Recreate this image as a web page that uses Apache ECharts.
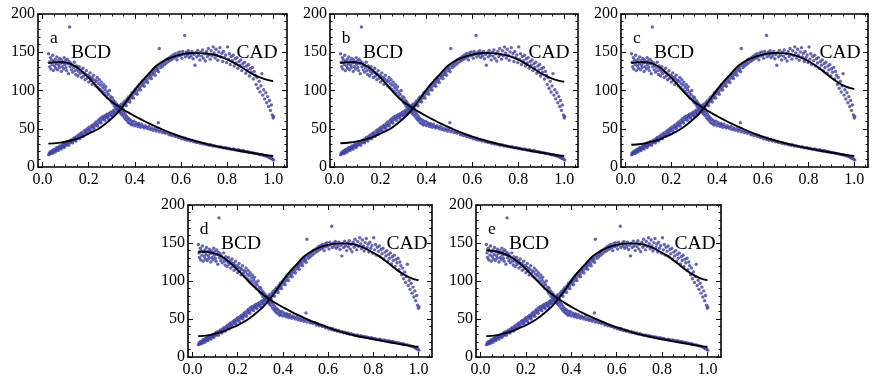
<!DOCTYPE html>
<html><head><meta charset="utf-8">
<script src="https://cdn.jsdelivr.net/npm/echarts@6/dist/echarts.min.js"></script>
<style>html,body{margin:0;padding:0;background:#fff}#c{width:872px;height:383px}</style>
</head><body><div id="c"></div>
<script>
// ---------- data ----------
const panelNames = ['a', 'b', 'c', 'd', 'e'];
const xTickValues = [0, 0.2, 0.4, 0.6, 0.8, 1.0];
const xMinorTickValues = [0.05,0.1,0.15,0.25,0.3,0.35,0.45,0.5,0.55,0.65,0.7,0.75,0.85,0.9,0.95,1.05];

// measured points (same in every panel)
const bcdPoints = [
[0.026,148],[0.029,137],[0.031,131],[0.034,143],[0.036,128],[0.039,140],[0.042,134],[0.044,146],[0.047,126],[0.049,138],
[0.052,132],[0.055,141],[0.057,129],[0.060,135],[0.062,144],[0.065,127],[0.068,139],[0.070,133],[0.073,130],[0.075,142],
[0.078,136],[0.081,125],[0.083,140],[0.086,131],[0.088,137],[0.091,128],[0.094,143],[0.096,134],[0.099,139],[0.101,130],
[0.104,126],[0.107,141],[0.109,135],[0.112,122],[0.114,138],[0.117,183],
[0.119,131],[0.122,136],[0.125,127],[0.128,133],[0.131,124],[0.135,130],[0.138,137],[0.141,126],[0.144,121],[0.147,132],
[0.150,128],[0.153,119],[0.156,125],[0.159,131],[0.162,122],[0.166,127],[0.169,117],[0.172,124],[0.175,129],[0.178,119],
[0.181,123],[0.184,114],[0.187,121],[0.190,126],[0.193,116],[0.197,120],[0.200,111],[0.203,118],[0.206,123],[0.209,113],
[0.212,117],[0.215,108],[0.218,115],[0.221,120],[0.224,110],[0.228,113.5],[0.231,106],[0.234,112],[0.237,117],[0.240,104],
[0.243,109],[0.246,114],[0.249,101.5],[0.252,107],[0.255,111],[0.259,99],[0.262,104],[0.265,108],[0.268,96],[0.271,101],
[0.274,105],[0.277,93],[0.280,98],[0.283,90],[0.286,95],[0.290,100],[0.293,88],[0.296,92],[0.299,85],[0.302,90.5],
[0.305,83],[0.308,87],[0.311,80],[0.314,85],[0.317,78],[0.321,82.5],[0.324,76],[0.327,80],[0.330,73],[0.333,78],
[0.336,71],[0.339,75.5],[0.342,69],[0.345,73],[0.348,67],[0.352,71.5],[0.355,64],[0.358,69],[0.361,62],[0.364,66.5],
[0.367,60],[0.370,64],[0.373,58],[0.376,62.5],[0.379,57],[0.383,61],[0.386,55],[0.389,59],
[0.392,56],[0.396,60],[0.400,54],[0.405,58],[0.409,56],[0.413,53],[0.417,57],[0.421,55],[0.425,52],[0.430,56],
[0.435,53],[0.440,51],[0.445,54],[0.450,52],[0.456,50],[0.461,53],[0.467,49],[0.473,51],[0.479,48],[0.486,50],
[0.492,47],[0.498,49],[0.502,58],[0.506,46],[0.513,48],[0.520,45],[0.527,46],[0.533,44],[0.541,45],[0.548,42],
[0.554,43],[0.561,41],[0.569,42],[0.575,40],[0.582,40.5],[0.589,38.5],[0.596,39],[0.603,37],[0.610,38],[0.616,36],
[0.620,37.5],[0.627,35],[0.634,36],[0.641,34],[0.647,35],[0.655,33],[0.662,33.5],[0.668,32],[0.675,32.5],[0.683,31],
[0.689,31.5],[0.696,30],[0.703,30.5],[0.710,29.5],[0.717,29],[0.724,28.5],[0.730,29],[0.738,27.5],[0.745,28],[0.751,27],
[0.758,27],[0.766,26],[0.772,26.5],[0.779,25.5],[0.786,25],[0.793,25.5],[0.800,24],[0.807,24.5],[0.813,23.5],[0.821,23],
[0.828,23.5],[0.834,22.5],[0.841,22],[0.849,22.5],[0.855,21.5],[0.862,21],[0.869,21.5],[0.876,20.5],[0.883,20],[0.890,20],
[0.896,19],[0.903,19],[0.911,18.5],[0.917,18],[0.924,17.5],[0.932,17.5],[0.938,16.5],[0.945,16],[0.952,16],[0.959,15],
[0.966,14.5],[0.973,14],[0.979,13],[0.984,12.5],[0.990,11],[0.994,12],[0.998,10],[1.002,9]
];
const cadPoints = [
[0.026,16],[0.029,18.5],[0.031,17],[0.034,20],[0.036,17.5],[0.039,19],[0.042,21.5],[0.044,18],[0.047,20.5],[0.049,23],
[0.052,21],[0.055,19.5],[0.057,24],[0.060,22],[0.062,25.5],[0.065,23],[0.068,21.5],[0.070,26],[0.073,24.5],[0.075,27.5],
[0.078,25],[0.081,23.5],[0.083,28],[0.086,26.5],[0.088,29.5],[0.091,27],[0.094,25.5],[0.096,30],[0.099,28],[0.101,31.5],
[0.105,29],[0.108,33],[0.111,30.5],[0.114,28.5],[0.117,34],[0.120,32],[0.124,35.5],[0.127,33],[0.130,31.5],[0.133,37],
[0.136,34.5],[0.139,38.5],[0.142,36],[0.145,34],[0.148,40],[0.152,37.5],[0.155,42],[0.158,39],[0.161,37],[0.164,43.5],
[0.167,41],[0.170,45],[0.173,42.5],[0.176,40],[0.180,47],[0.183,44],[0.186,48.5],[0.189,46],[0.192,43.5],[0.195,50],
[0.198,47.5],[0.201,52],[0.204,49],[0.208,46.5],[0.211,53.5],[0.214,51],[0.217,55],[0.220,52.5],[0.223,50],[0.226,57],
[0.229,54],[0.232,59],[0.236,56],[0.239,53.5],[0.242,61],[0.245,58],[0.248,63],[0.251,60],[0.254,57.5],[0.257,65],
[0.260,62],[0.264,66.5],[0.267,63.5],[0.270,61],[0.273,67.5],[0.276,65],[0.279,69],[0.282,66],[0.285,63.5],[0.288,70],
[0.292,67.5],[0.295,71.5],[0.298,68.5],[0.301,66],[0.304,73],[0.307,70],[0.310,74.5],[0.313,72],[0.316,69.5],[0.320,76],
[0.323,73.5],[0.326,78],[0.329,75],[0.332,72.5],[0.335,80],[0.338,77],[0.341,82],[0.344,79],[0.348,76],[0.351,84],
[0.354,81],[0.357,86.5],[0.360,83],[0.363,80],[0.366,89],[0.369,85.5],[0.372,91.5],[0.376,88],[0.379,85],[0.382,94],
[0.385,90.5],[0.388,97],[0.391,93],[0.394,90],[0.397,99.5],[0.400,96],[0.404,102],[0.407,98.5],[0.410,95],[0.413,105],
[0.416,101],[0.419,107.5],[0.422,104],[0.425,100.5],[0.428,110],[0.432,106.5],[0.435,112.5],[0.438,109],[0.441,105.5],[0.444,115],
[0.447,111.5],[0.450,117.5],[0.453,114],[0.456,110.5],[0.460,120],[0.463,116.5],[0.466,122],[0.469,119],[0.472,115.5],[0.475,124.5],
[0.478,121],[0.481,127],[0.484,123.5],[0.488,120],[0.491,129],[0.494,126],[0.497,131],[0.500,128],[0.503,124.5],[0.506,155],
[0.509,133],[0.513,130],
[0.517,135.5],[0.521,132],[0.525,137.5],[0.529,134],[0.533,140],[0.537,136],[0.542,141.5],[0.546,138],[0.550,143],[0.554,139.5],
[0.558,145],[0.562,141],[0.566,146.5],[0.571,142.5],[0.575,148],[0.579,144],[0.583,140],[0.587,149],[0.591,145],[0.595,150.5],
[0.600,146],[0.604,142],[0.608,151],[0.612,147.5],[0.616,172],
[0.619,144],[0.624,150],[0.628,146],[0.632,152],[0.636,143],[0.640,148.5],[0.644,145],[0.648,151],[0.653,141.5],[0.657,147],
[0.661,133],[0.665,149.5],[0.669,144],[0.673,152.5],[0.677,146],[0.682,140],[0.686,150],[0.690,145],[0.694,153],[0.698,142],
[0.702,148],[0.706,138.5],[0.711,151],[0.715,144.5],[0.719,155],[0.723,147],[0.727,141],[0.731,152],[0.735,145.5],[0.740,157],
[0.744,149],[0.748,142.5],[0.752,154],[0.756,146],[0.760,139.5],[0.764,150.5],[0.769,156],[0.773,144],[0.777,148.5],[0.781,138],
[0.785,151],[0.789,143],[0.794,146.5],[0.798,136.5],[0.802,157],[0.806,141],[0.810,148],[0.814,134],[0.818,144.5],[0.823,139],
[0.827,146],[0.831,132],[0.835,141.5],[0.839,136],[0.843,143],[0.847,129],[0.852,138],[0.856,133],[0.860,140],[0.864,126],
[0.868,135],[0.872,130],[0.876,137],[0.881,122.5],[0.885,132],[0.889,127],[0.893,134],[0.897,119],[0.901,128.5],[0.905,124],
[0.910,130],[0.914,115],[0.918,125],[0.922,120],[0.926,108],[0.930,117],[0.934,103],[0.939,112],[0.943,98],[0.947,106],
[0.951,122],[0.955,94],[0.959,101],[0.963,89],[0.968,97],[0.972,84],[0.976,92],[0.980,79],[0.984,87],[0.988,74],
[0.992,81],[0.996,68],[1.000,64],[1.002,66]
];

// fitted model curves, one pair per panel
const bcdFitA = [[0.025,136],[0.056,137],[0.087,137],[0.118,135],[0.15,130],[0.181,122],[0.212,113],[0.243,102],[0.274,92],[0.305,84],[0.336,78],[0.367,72],[0.409,65],[0.461,57],[0.513,50],[0.564,43.5],[0.616,38],[0.668,33.5],[0.72,29.5],[0.772,26],[0.824,23],[0.876,20],[0.927,17.5],[0.979,15],[1.0,14.5]];
const cadFitA = [[0.025,30.5],[0.067,31.5],[0.098,33],[0.139,36],[0.17,39],[0.201,44],[0.243,50],[0.274,57],[0.316,68],[0.347,79],[0.388,96],[0.419,108],[0.461,122],[0.492,132],[0.533,140],[0.575,145],[0.616,148],[0.658,149],[0.699,148.5],[0.741,147],[0.782,143],[0.824,137],[0.865,130],[0.907,122],[0.948,116.5],[0.979,113.5],[1.0,112.5]];
const bcdFitB = [[0.025,136],[0.056,137],[0.087,137],[0.118,135],[0.15,130],[0.181,122],[0.212,113],[0.243,102],[0.274,92],[0.305,84],[0.336,78],[0.367,72],[0.409,65],[0.461,57],[0.513,50],[0.564,43.5],[0.616,38],[0.668,33.5],[0.72,29.5],[0.772,26],[0.824,23],[0.876,20],[0.927,17.5],[0.979,15],[1.0,14.5]];
const cadFitB = [[0.025,31],[0.067,32],[0.098,33.5],[0.139,36.5],[0.17,39.5],[0.201,44],[0.243,50],[0.274,57],[0.316,68],[0.347,79],[0.388,96],[0.419,108],[0.461,122],[0.492,132],[0.533,140],[0.575,145],[0.616,148],[0.658,149],[0.699,148.5],[0.741,146.5],[0.782,142.5],[0.824,136.5],[0.865,129],[0.907,121],[0.948,115.5],[0.979,112.5],[1.0,111.5]];
const bcdFitC = [[0.025,136],[0.056,137],[0.087,137],[0.118,135],[0.15,130],[0.181,122],[0.212,113],[0.243,102],[0.274,92],[0.305,84],[0.336,78],[0.367,72],[0.409,65],[0.461,57],[0.513,50],[0.564,43.5],[0.616,38],[0.668,33.5],[0.72,29.5],[0.772,26],[0.824,23],[0.876,20],[0.927,17.5],[0.979,15],[1.0,14.5]];
const cadFitC = [[0.025,29],[0.067,30],[0.098,32],[0.139,35],[0.17,39],[0.201,43],[0.243,50],[0.274,57],[0.316,68],[0.347,79],[0.388,96],[0.419,108],[0.461,122],[0.492,132],[0.533,140],[0.575,145],[0.616,148],[0.658,149],[0.699,148.5],[0.741,146],[0.782,141],[0.824,134],[0.865,125],[0.907,115],[0.948,107],[0.979,103.5],[1.0,102]];
const bcdFitD = [[0.025,138.5],[0.056,138.5],[0.087,137],[0.118,134],[0.15,128],[0.181,120],[0.212,111],[0.243,101],[0.274,92],[0.305,84],[0.336,77],[0.367,71],[0.409,64],[0.461,56],[0.513,49],[0.564,43],[0.616,37],[0.668,32],[0.72,28],[0.772,25],[0.824,22],[0.876,19],[0.927,16.5],[0.979,14],[1.0,13.5]];
const cadFitD = [[0.025,27.5],[0.067,28.5],[0.098,30.5],[0.139,34],[0.17,38],[0.201,42],[0.243,49],[0.274,56],[0.316,67],[0.347,78],[0.388,95],[0.419,108],[0.461,122],[0.492,132],[0.533,140],[0.575,145.5],[0.616,148.5],[0.658,149.5],[0.699,149],[0.741,146],[0.782,140],[0.824,133],[0.865,124],[0.907,114],[0.948,106.5],[0.979,102.5],[1.0,101]];
const bcdFitE = [[0.025,140.5],[0.056,139.5],[0.087,137.5],[0.118,134],[0.15,128.5],[0.181,121],[0.212,112],[0.243,102.5],[0.274,93],[0.305,85],[0.336,78],[0.367,72],[0.409,64.5],[0.461,56.5],[0.513,49.5],[0.564,43],[0.616,37.5],[0.668,32.5],[0.72,28.5],[0.772,25],[0.824,22],[0.876,19],[0.927,16.5],[0.979,14],[1.0,13.5]];
const cadFitE = [[0.025,27.5],[0.067,28.5],[0.098,30.5],[0.139,34],[0.17,38],[0.201,42],[0.243,49],[0.274,56],[0.316,67],[0.347,78],[0.388,95],[0.419,108],[0.461,122],[0.492,132],[0.533,140],[0.575,145.5],[0.616,148.5],[0.658,149.5],[0.699,149],[0.741,146],[0.782,140],[0.824,133],[0.865,124],[0.907,114],[0.948,106.5],[0.979,102.5],[1.0,101]];
const bcdFits = [bcdFitA, bcdFitB, bcdFitC, bcdFitD, bcdFitE];
const cadFits = [cadFitA, cadFitB, cadFitC, cadFitD, cadFitE];

// ---------- layout / style ----------
const layout = [
  {left: 38, top: 14, width: 249, height: 153},
  {left: 330, top: 14, width: 248, height: 153},
  {left: 621, top: 14, width: 247, height: 153},
  {left: 188, top: 205, width: 244, height: 152},
  {left: 476, top: 205, width: 245, height: 152}
];
const FONT = '"Liberation Serif", "Times New Roman", serif';
const DOT = '#4040a8';
const X_MIN = -0.02, X_MAX = 1.06;

const grids = [], xAxes = [], yAxes = [], series = [], graphics = [];
layout.forEach((g, i) => {
  grids.push({left: g.left, top: g.top, width: g.width, height: g.height, containLabel: false});
  const line = {show: true, onZero: false, lineStyle: {color: '#000', width: 1.6}};
  const majorX = (pos, labels) => ({
    gridIndex: i, type: 'value', position: pos, min: X_MIN, max: X_MAX,
    axisLine: line,
    axisTick: {show: true, inside: true, length: 5, customValues: xTickValues, lineStyle: {color: '#000', width: 1}},
    axisLabel: {show: labels, customValues: xTickValues, formatter: v => v.toFixed(1),
      color: '#000', fontFamily: FONT, fontSize: 16, margin: 5},
    splitLine: {show: false}
  });
  const minorX = (pos) => ({
    gridIndex: i, type: 'value', position: pos, min: X_MIN, max: X_MAX,
    axisLine: {show: false, onZero: false},
    axisTick: {show: true, inside: true, length: 2.5, customValues: xMinorTickValues, lineStyle: {color: '#000', width: 1}},
    axisLabel: {show: false}, splitLine: {show: false}
  });
  const yAx = (pos, labels) => ({
    gridIndex: i, type: 'value', position: pos, min: 0, max: 200, interval: 50,
    axisLine: line,
    axisTick: {show: true, inside: true, length: 5, lineStyle: {color: '#000', width: 1}},
    minorTick: {show: true, splitNumber: 5, length: 2.5, lineStyle: {color: '#000', width: 1}},
    axisLabel: {show: labels, color: '#000', fontFamily: FONT, fontSize: 16, margin: 3},
    splitLine: {show: false}
  });
  const xBase = xAxes.length;
  xAxes.push(majorX('bottom', true), minorX('bottom'), majorX('top', false), minorX('top'));
  const yBase = yAxes.length;
  yAxes.push(yAx('left', true), yAx('right', false));

  series.push({type: 'scatter', xAxisIndex: xBase, yAxisIndex: yBase, data: bcdPoints,
    symbolSize: 3.4, itemStyle: {color: DOT}, silent: true, z: 2});
  series.push({type: 'scatter', xAxisIndex: xBase, yAxisIndex: yBase, data: cadPoints,
    symbolSize: 3.4, itemStyle: {color: DOT}, silent: true, z: 2});
  series.push({type: 'line', xAxisIndex: xBase, yAxisIndex: yBase, data: bcdFits[i],
    smooth: 0.35, showSymbol: false, lineStyle: {color: '#000', width: 1.9}, silent: true, z: 3});
  series.push({type: 'line', xAxisIndex: xBase, yAxisIndex: yBase, data: cadFits[i],
    smooth: 0.35, showSymbol: false, lineStyle: {color: '#000', width: 1.9}, silent: true, z: 3});

  const txt = (x, y, s, size) => ({type: 'text', x: g.left + x, y: g.top + y, z: 10,
    style: {text: s, font: size + 'px ' + FONT, fill: '#000', textAlign: 'center', textVerticalAlign: 'middle'}});
  graphics.push(txt(16, 24, panelNames[i], 17.5));
  graphics.push(txt(53, 39, 'BCD', 19.5));
  graphics.push(txt(219, 39, 'CAD', 19.5));
});

const chart = echarts.init(document.getElementById('c'), null, {renderer: 'canvas'});
chart.setOption({
  animation: false,
  backgroundColor: '#fff',
  grid: grids, xAxis: xAxes, yAxis: yAxes, series: series, graphic: graphics
});
</script>
</body></html>
